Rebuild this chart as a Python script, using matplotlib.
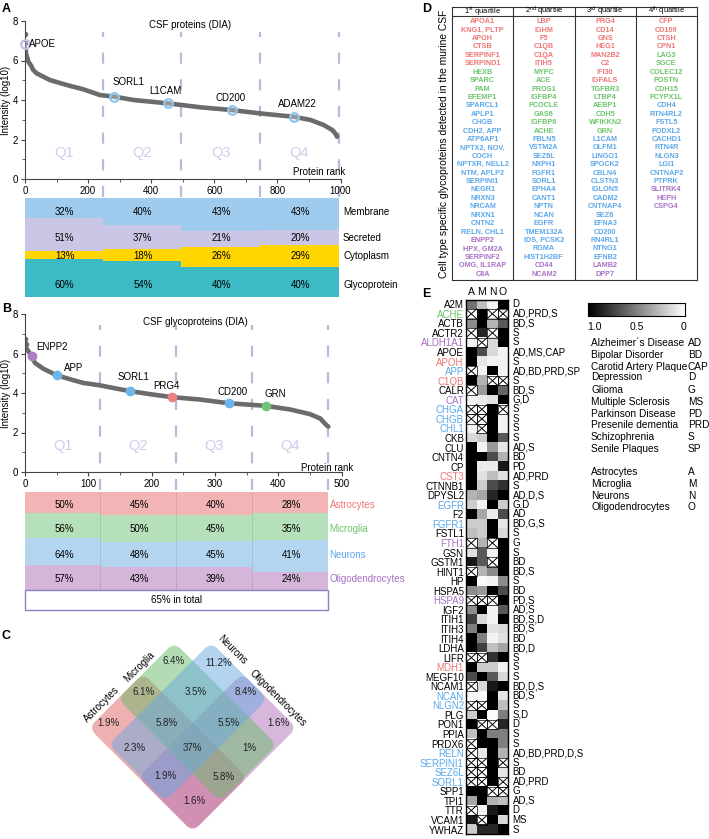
import numpy as np
import matplotlib
matplotlib.use("Agg")
import matplotlib.pyplot as plt
from matplotlib.patches import Rectangle, FancyBboxPatch
from matplotlib.transforms import Affine2D

plt.rcParams['font.family'] = ['Liberation Sans', 'DejaVu Sans']
plt.rcParams['font.size'] = 7

W, H = 709, 839

# ---------------- panel A: all CSF proteins ----------------
top_rank_a = [0, 1]
top_int_a = [7.35, 6.9]
rank_a = [2, 3, 11, 21, 26, 37, 79, 132, 185, 238, 283, 344, 453, 556, 656, 746, 852, 905, 947, 974, 984, 989]
int_a = [6.6, 6.36, 5.94, 5.69, 5.52, 5.35, 5.01, 4.76, 4.54, 4.25, 4.17, 4.0, 3.83, 3.63, 3.49, 3.32,
         3.15, 2.99, 2.73, 2.48, 2.3, 2.14]
marked_a = ['APOE', 'SORL1', 'L1CAM', 'CD200', 'ADAM22']
marked_a_rank = [0, 283, 453, 656, 852]
marked_a_int = [6.82, 4.17, 3.83, 3.49, 3.15]
quart_a = [0, 247, 496, 745, 995]
loc_names = ['Membrane', 'Secreted', 'Cytoplasm', 'Glycoprotein']
loc_pct = [[32, 40, 43, 43], [51, 37, 21, 20], [13, 18, 26, 29], [60, 54, 40, 40]]

# ---------------- panel B: CSF glycoproteins ----------------
top_rank_b = [0, 1]
top_int_b = [6.75, 6.5]
rank_b = [2.6, 10.5, 15.8, 29, 50, 76, 92, 118, 140, 165, 200, 232, 276, 322, 380, 418, 450, 466, 476, 479]
int_b = [6.25, 5.86, 5.52, 5.23, 4.9, 4.65, 4.51, 4.39, 4.25, 4.1, 3.93, 3.79, 3.67, 3.48, 3.35, 3.17,
         2.93, 2.71, 2.37, 2.3]
marked_b = ['ENPP2', 'APP', 'SORL1', 'PRG4', 'CD200', 'GRN']
marked_b_rank = [10.5, 50, 165, 232, 322, 380]
marked_b_int = [5.86, 4.9, 4.1, 3.79, 3.48, 3.35]
marked_b_cell = ['O', 'N', 'N', 'A', 'N', 'M']
quart_b = [0, 119, 239, 359, 479]
cell_names = ['Astrocytes', 'Microglia', 'Neurons', 'Oligodendrocytes']
cell_pct = [[50, 45, 40, 28], [56, 50, 45, 35], [64, 48, 45, 41], [57, 43, 39, 24]]
total_text = '65% in total'

# ---------------- panel C: venn ----------------
venn_vals = ['6.4%', '11.2%', '1.9%', '6.1%', '3.5%', '8.4%', '5.8%', '5.5%', '1.6%',
             '2.3%', '37%', '1%', '1.9%', '5.8%', '1.6%']

# ---------------- panel D: table ----------------
quartile_heads = [r'1$^{\mathregular{st}}$ quartile', r'2$^{\mathregular{nd}}$ quartile',
                  r'3$^{\mathregular{rd}}$ quartile', r'4$^{\mathregular{th}}$ quartile']
col1 = ['APOA1', 'KNG1, PLTP', 'APOH', 'CTSB', 'SERPINF1', 'SERPIND1',
        'HEXB', 'SPARC', 'PAM', 'EFEMP1',
        'SPARCL1', 'APLP1', 'CHGB', 'CDH2, APP', 'ATP6AP1', 'NPTX2, NOV,', 'COCH', 'NPTXR, NELL2',
        'NTM, APLP2', 'SERPINI1', 'NEGR1', 'NRXN3', 'NRCAM', 'NRXN1', 'CNTN2', 'RELN, CHL1',
        'ENPP2', 'HPX, GM2A', 'SERPINF2', 'OMG, IL1RAP', 'C8A']
col2 = ['LBP', 'IGHM', 'F5', 'C1QB', 'C1QA', 'ITIH5',
        'MYPC', 'ACE', 'PROS1', 'IGFBP4', 'PCOCLE', 'GAS6', 'IGFBP6', 'ACHE',
        'FBLN5', 'VSTM2A', 'SEZ6L', 'NXPH1', 'FGFR1', 'SORL1', 'EPHA4', 'CANT1', 'NPTN', 'NCAN',
        'EGFR', 'TMEM132A', 'IDS, PCSK2', 'RGMA', 'HIST1H2BF',
        'CD44', 'NCAM2']
col3 = ['PRG4', 'CD14', 'GNS', 'HEG1', 'MAN2B2', 'C2', 'IFI30', 'IGFALS',
        'TGFBR3', 'LTBP4', 'AEBP1', 'CDH5', 'WFIKKN2', 'GRN',
        'L1CAM', 'OLFM1', 'LINGO1', 'SPOCK2', 'CBLN4', 'CLSTN3', 'IGLON5', 'CADM2', 'CNTNAP4',
        'SEZ6', 'EFNA3', 'CD200', 'RN4RL1', 'NTNG1', 'EFNB2',
        'LAMB2', 'DPP7']
col4 = ['CFP', 'CD109', 'CTSH', 'CPN1',
        'LAG3', 'SGCE', 'COLEC12', 'POSTN', 'CDH15', 'PCYPX1L',
        'CDH4', 'RTN4RL2', 'FSTL5', 'PODXL2', 'CACHD1', 'RTN4R', 'NLGN3', 'LGI1', 'CNTNAP2', 'PTPRK',
        'SLITRK4', 'HEPH', 'CSPG4']
table_cols = [col1, col2, col3, col4]
# counts per cell type (astro, microglia, neurons, oligo) in each column
table_groups = [[6, 4, 16, 5], [6, 8, 15, 2], [8, 6, 15, 2], [4, 6, 10, 3]]

# ---------------- panel E: heatmap ----------------
genes = ['A2M', 'ACHE', 'ACTB', 'ACTR2', 'ALDH1A1', 'APOE', 'APOH', 'APP', 'C1QB', 'CALR', 'CAT',
         'CHGA', 'CHGB', 'CHL1', 'CKB', 'CLU', 'CNTN4', 'CP', 'CST3', 'CTNNB1', 'DPYSL2', 'EGFR', 'F2',
         'FGFR1', 'FSTL1', 'FTH1', 'GSN', 'GSTM1', 'HINT1', 'HP', 'HSPA5', 'HSPA9', 'IGF2', 'ITIH1',
         'ITIH3', 'ITIH4', 'LDHA', 'LIFR', 'MDH1', 'MEGF10', 'NCAM1', 'NCAN', 'NLGN2', 'PLG', 'PON1',
         'PPIA', 'PRDX6', 'RELN', 'SERPINI1', 'SEZ6L', 'SORL1', 'SPP1', 'TPI1', 'TTR', 'VCAM1', 'YWHAZ']
gene_cell = ['k', 'M', 'k', 'k', 'O', 'k', 'A', 'N', 'A', 'k', 'O',
             'N', 'N', 'N', 'k', 'k', 'k', 'k', 'A', 'k', 'k', 'N', 'k',
             'N', 'k', 'O', 'k', 'k', 'k', 'k', 'k', 'O', 'k', 'k',
             'k', 'k', 'k', 'k', 'A', 'k', 'k', 'N', 'N', 'k', 'k',
             'k', 'k', 'N', 'N', 'N', 'N', 'k', 'k', 'k', 'k', 'k']
diseases = ['D', 'AD,PRD,S', 'BD,S', 'S', 'S', 'AD,MS,CAP', 'S', 'AD,BD,PRD,SP', 'S', 'BD,S', 'G,D',
            'S', 'S', 'S', 'S', 'AD,S', 'BD', 'PD', 'AD,PRD', 'S', 'AD,D,S', 'G,D', 'AD',
            'BD,G,S', 'S', 'G', 'S', 'BD', 'BD,S', 'S', 'BD', 'PD,S', 'AD,S', 'BD,S,D',
            'BD,S', 'BD', 'BD,D', 'S', 'S', 'S', 'BD,D,S', 'BD,S', 'S', 'S,D', 'D',
            'S', 'S', 'AD,BD,PRD,D,S', 'S', 'BD', 'AD,PRD', 'G', 'AD,S', 'D', 'MS', 'S']
X = None
heat = [
    [0.55, 0.25, 0.05, 1.0], [X, 1.0, X, X], [0.45, 1.0, 0.3, 0.65], [X, 0.85, X, 1.0],
    [0.05, X, 0.15, 1.0], [1.0, 0.7, 0.15, 0.05], [1.0, 0.1, 0.05, 0.05], [X, 0.05, 1.0, 0.05],
    [1.0, 0.3, X, X], [X, 0.4, 1.0, 0.6], [0.05, 0.08, 0.12, 1.0], [X, X, 1.0, X],
    [X, X, 1.0, 0.05], [0.05, X, 1.0, 0.05], [0.15, 0.2, 1.0, 0.65], [1.0, 0.05, 0.4, 0.1],
    [1.0, 1.0, 0.7, 0.3], [1.0, 0.08, 0.08, 0.9], [1.0, 0.12, 0.25, 0.12], [1.0, 0.2, 0.7, 0.8],
    [0.3, 0.35, 0.85, 1.0], [0.2, 0.05, 1.0, 0.2], [1.0, 0.35, 0.08, 0.7], [0.2, 0.2, 1.0, 0.1],
    [0.25, 0.2, 1.0, 0.15], [X, 0.3, X, 1.0], [0.12, 0.65, 0.05, 1.0], [0.9, 0.65, X, 1.0],
    [X, 0.3, 0.45, 1.0], [1.0, 0.02, 0.05, 0.45], [0.45, 0.4, 1.0, 0.7], [X, X, X, 1.0],
    [0.45, 1.0, 0.05, 0.65], [0.75, 0.15, 0.05, 1.0], [0.5, 1.0, 0.12, 0.15], [1.0, 0.5, 0.05, 0.12],
    [1.0, 0.75, 0.25, 0.35], [X, X, 0.8, 1.0], [1.0, 0.2, 0.2, 0.05], [0.7, 1.0, 0.65, 0.15],
    [X, 0.15, 0.9, 1.0], [0.03, 0.03, 1.0, 0.1], [X, X, 1.0, 0.25], [0.2, 1.0, 0.02, 0.5],
    [1.0, X, X, 0.85], [0.25, 1.0, 0.5, 0.5], [X, 1.0, 1.0, 0.5], [X, 0.1, 1.0, 0.3],
    [X, X, 1.0, X], [X, X, 1.0, 0.1], [X, X, 1.0, X], [1.0, 1.0, X, X],
    [0.35, 1.0, 0.3, 0.25], [X, 0.05, 0.9, 1.0], [0.9, X, 1.0, 0.15], [0.2, 0.85, 0.85, 1.0],
]
heat_cols = ['A', 'M', 'N', 'O']
legend_dis = [('Alzheimer\u00b4s Disease', 'AD'), ('Bipolar Disorder', 'BD'), ('Carotid Artery Plaque', 'CAP'),
              ('Depression', 'D'), ('Glioma', 'G'), ('Multiple Sclerosis', 'MS'), ('Parkinson Disease', 'PD'),
              ('Presenile dementia', 'PRD'), ('Schizophrenia', 'S'), ('Senile Plaques', 'SP')]
legend_cells = [('Astrocytes', 'A'), ('Microglia', 'M'), ('Neurons', 'N'), ('Oligodendrocytes', 'O')]

# ---------------- styles ----------------
loc_colors = ['#9fcbee', '#cac6e5', '#ffd600', '#3dbac3']
band_colors = ['#f2b4b4', '#b6e0b9', '#b4d5f0', '#d5b6da']
cell_text = {'A': '#f07575', 'M': '#6cc46c', 'N': '#5aa8ea', 'O': '#a970c4', 'k': 'black'}
dash_col = '#b9b9dc'
line_col = '#6b6b6b'
axis_col = '#444444'

fig = plt.figure(figsize=(W / 100, H / 100), dpi=100)


def px_axes(x0, y0, x1, y1):
    return fig.add_axes([x0 / W, 1 - y1 / H, (x1 - x0) / W, (y1 - y0) / H])


def ftext(x, y, s, **kw):
    fig.text(x / W, 1 - y / H, s, **kw)


def style_curve_axes(ax, xmax, xstep):
    ax.set_xlim(0, xmax)
    ax.set_ylim(0, 8)
    for s in ['top', 'right']:
        ax.spines[s].set_visible(False)
    for s in ['left', 'bottom']:
        ax.spines[s].set_color(axis_col)
        ax.spines[s].set_linewidth(0.8)
    ax.set_xticks(np.arange(0, xmax + 1, xstep))
    ax.set_xticks(np.arange(xstep / 2, xmax, xstep), minor=True)
    ax.set_yticks([0, 2, 4, 6, 8])
    ax.set_yticks([1, 3, 5, 7], minor=True)
    ax.tick_params(which='major', length=3, width=0.8, color=axis_col, labelsize=7, pad=2)
    ax.tick_params(which='minor', length=2, width=0.6, color=axis_col)
    ax.patch.set_alpha(0)


def draw_quartiles(ax, edges):
    for q in edges[1:]:
        ax.plot([q, q], [-0.9, 7.45], color=dash_col, lw=1.6, ls=(0, (5, 7)), clip_on=False, zorder=1)
    for i in range(4):
        ax.text((edges[i] + edges[i + 1]) / 2, 1.3, 'Q%d' % (i + 1), color='#cfcdea', fontsize=10.5,
                ha='center', va='center')


def draw_bands(ax, edges, pcts, colors, ys, names, name_x, name_colors, sep=False):
    ax.set_ylim(1, 0)
    ax.axis('off')
    for q in range(4):
        col = [p[q] for p in pcts]
        tot = float(sum(col))
        bottom = 0
        for r in range(4):
            h = col[r] / tot
            ax.bar(edges[q], h, width=edges[q + 1] - edges[q], bottom=bottom, align='edge',
                   color=colors[r], linewidth=0)
            bottom += h
        mid = (edges[q] + edges[q + 1]) / 2
        for r in range(4):
            ax.text(mid + 2, ys[r], '%d%%' % col[r], ha='center', va='center', fontsize=7)
    if sep:
        for q in edges[1:-1]:
            ax.plot([q, q], [0, 1], color=(0, 0, 0, 0.1), lw=0.7)
    for r in range(4):
        ax.text(name_x, ys[r], names[r], ha='left', va='center', fontsize=7, color=name_colors[r])


# ---------------- A ----------------
ftext(2, 3, 'A', fontsize=9, fontweight='bold', va='top')
axA = px_axes(25, 21, 340.5, 179)
style_curve_axes(axA, 1000, 200)
draw_quartiles(axA, quart_a)
axA.plot(rank_a, int_a, color=line_col, lw=3.3, solid_capstyle='round', zorder=2)
axA.plot(top_rank_a, top_int_a, 'o', color=line_col, ms=3, zorder=2)
ring_cols = ['#c4bfe6', '#8cc6ef', '#8cc6ef', '#8cc6ef', '#8cc6ef']
label_pos_a = [(14, 6.85), (327, 4.93), (444, 4.47), (651, 4.12), (864, 3.8)]
for i, name in enumerate(marked_a):
    axA.plot(marked_a_rank[i], marked_a_int[i], 'o', ms=6.2, mfc=(1, 1, 1, 0.3), mec=ring_cols[i],
             mew=1.6, zorder=3, clip_on=False)
    axA.text(label_pos_a[i][0], label_pos_a[i][1], name, ha='left' if i == 0 else 'center',
             va='center', fontsize=7)
axA.text(524, 7.8, 'CSF proteins (DIA)', ha='center', va='center', fontsize=7)
axA.text(1016, 0.35, 'Protein rank', ha='right', va='center', fontsize=7)
ftext(6.5, 100, 'Intensity (log10)', rotation=90, ha='center', va='center', fontsize=7)

axAb = px_axes(25, 198, 340.5, 297)
axAb.set_xlim(0, 1000)
draw_bands(axAb, quart_a, loc_pct, loc_colors, [0.14, 0.40, 0.59, 0.88], loc_names, 1008,
           ['black'] * 4)

# ---------------- B ----------------
ftext(2, 303, 'B', fontsize=9, fontweight='bold', va='top')
axB = px_axes(25, 314, 341.7, 472)
style_curve_axes(axB, 500, 100)
draw_quartiles(axB, quart_b)
axB.plot(rank_b, int_b, color=line_col, lw=3.3, solid_capstyle='round', zorder=2)
axB.plot(top_rank_b, top_int_b, 'o', color=line_col, ms=3, zorder=2)
dot_cols = {'A': '#ee8080', 'M': '#74c477', 'N': '#6cb4ec', 'O': '#b07cc6'}
label_pos_b = [(42.6, 6.33), (77, 5.27), (171, 4.81), (224, 4.36), (327, 4.06), (395, 3.94)]
for i, name in enumerate(marked_b):
    axB.plot(marked_b_rank[i], marked_b_int[i], 'o', ms=7, color=dot_cols[marked_b_cell[i]],
             mec='none', zorder=3)
    axB.text(label_pos_b[i][0], label_pos_b[i][1], name, ha='center', va='center', fontsize=7)
axB.text(269, 7.6, 'CSF glycoproteins (DIA)', ha='center', va='center', fontsize=7)
axB.text(518, 0.22, 'Protein rank', ha='right', va='center', fontsize=7)
ftext(6.5, 393, 'Intensity (log10)', rotation=90, ha='center', va='center', fontsize=7)

axBb = px_axes(25, 491.7, 341.7, 590)
axBb.set_xlim(0, 500)
draw_bands(axBb, quart_b, cell_pct, band_colors, [0.135, 0.38, 0.64, 0.885], cell_names, 481,
           [cell_text[c] for c in 'AMNO'], sep=True)

axBt = px_axes(25, 590, 341.7, 610)
axBt.set_xlim(0, 500)
axBt.set_ylim(0, 1)
axBt.axis('off')
axBt.add_patch(Rectangle((0, 0), quart_b[-1], 1, fc='white', ec='#8b80c4', lw=1, clip_on=False))
axBt.text(quart_b[-1] / 2, 0.5, total_text, ha='center', va='center', fontsize=7)

# ---------------- C ----------------
ftext(2, 630, 'C', fontsize=9, fontweight='bold', va='top')
axC = px_axes(60, 625, 330, 839)
axC.set_xlim(60, 330)
axC.set_ylim(839, 625)
axC.axis('off')
cx, cy = 192.7, 748.3
# drawn in the order astro, oligo, micro, neurons so the overlaps blend like the original
venn_colors = {'A': '#df6262', 'M': '#6bbb6b', 'N': '#69a9e1', 'O': '#b171b9'}
venn_boxes = {'A': (-88, 59, -18, 59), 'M': (-88, 57, -62, 18), 'N': (-62, 18, -88, 57),
              'O': (-18, 59, -88, 59)}
rot = Affine2D().rotate_deg(45).translate(cx, cy) + axC.transData
for key in ['A', 'O', 'M', 'N']:
    u0, u1, v0, v1 = venn_boxes[key]
    axC.add_patch(FancyBboxPatch((u0, v0), u1 - u0, v1 - v0, boxstyle='round,pad=0,rounding_size=9',
                                 fc=venn_colors[key], ec='none', alpha=0.5, transform=rot))
venn_xy = [(173.3, 660.7), (218.3, 663.3), (108.3, 722.7), (143.3, 692.3), (196, 692.3), (246, 692.3),
           (166.7, 722.7), (228.3, 722.7), (278.3, 722.7), (135, 748.3), (192.7, 748.3), (249.3, 748.3),
           (165.7, 776), (224, 776.7), (194.3, 801)]
for (x, y), s in zip(venn_xy, venn_vals):
    axC.text(x, y, s, ha='center', va='center', fontsize=7, color='#222222')
venn_name_xy = [(101.7, 704, 45), (139, 667, 45), (232, 650, -45), (278, 698, -45)]
for (x, y, r), s in zip(venn_name_xy, cell_names):
    axC.text(x, y, s, ha='center', va='center', fontsize=7, rotation=r, rotation_mode='anchor')

# ---------------- D ----------------
ftext(422, 3, 'D', fontsize=9, fontweight='bold', va='top')
axD = px_axes(452, 7.3, 697, 280)
axD.set_xlim(0, 4)
axD.set_ylim(30.7, -1.71)
axD.set_xticks([])
axD.set_yticks([])
for s in axD.spines.values():
    s.set_linewidth(0.8)
    s.set_color('#333333')
for x in [1, 2, 3]:
    axD.axvline(x, color='#333333', lw=0.8)
axD.axhline(-0.71, color='#333333', lw=0.8)
grp_cols = [cell_text[c] for c in 'AMNO']
for j, col in enumerate(table_cols):
    axD.text(j + 0.5, -1.21, quartile_heads[j], ha='center', va='center', fontsize=5.4)
    colors = []
    for g, n in enumerate(table_groups[j]):
        colors += [grp_cols[g]] * n
    for i, name in enumerate(col):
        axD.text(j + 0.5, i, name, ha='center', va='center', fontsize=5.2, fontweight='bold',
                 color=colors[i])
ftext(444, 144, 'Cell type specific glycoproteins detected in the murine CSF', rotation=90,
      ha='center', va='center', fontsize=7.4)

# ---------------- E ----------------
ftext(422, 288, 'E', fontsize=9, fontweight='bold', va='top')
mat = np.array([[np.nan if v is None else v for v in row] for row in heat])
axE = px_axes(466, 299.5, 508.3, 834.3)
cmap = plt.get_cmap('gray_r').copy()
cmap.set_bad('white')
axE.imshow(np.ma.masked_invalid(mat), cmap=cmap, vmin=0, vmax=1, aspect='auto', interpolation='nearest')
for i in range(mat.shape[0]):
    for j in range(mat.shape[1]):
        if np.isnan(mat[i, j]):
            axE.plot([j - 0.5, j + 0.5], [i - 0.5, i + 0.5], color='black', lw=0.7)
            axE.plot([j - 0.5, j + 0.5], [i + 0.5, i - 0.5], color='black', lw=0.7)
            axE.add_patch(Rectangle((j - 0.5, i - 0.5), 1, 1, fill=False, ec='black', lw=0.5))
axE.set_xlim(-0.5, 3.5)
axE.set_ylim(len(genes) - 0.5, -0.5)
axE.set_yticks(range(len(genes)))
axE.set_yticklabels(genes, fontsize=7)
for lab, c in zip(axE.get_yticklabels(), gene_cell):
    lab.set_color(cell_text[c])
axE.set_xticks(range(4))
axE.set_xticklabels(heat_cols, fontsize=7.5)
axE.tick_params(length=0, pad=1.5, top=True, labeltop=True, bottom=False, labelbottom=False)
for s in axE.spines.values():
    s.set_linewidth(1.0)
for i, d in enumerate(diseases):
    axE.text(3.92, i, d, ha='left', va='center', fontsize=7)

axCb = px_axes(588, 302.7, 685, 316)
axCb.imshow(np.linspace(1, 0, 256)[None, :], cmap='gray_r', vmin=0, vmax=1, aspect='auto',
            extent=[0, 1, 0, 1])
axCb.set_yticks([])
axCb.set_xticks([0.07, 0.5, 0.98])
axCb.set_xticklabels(['1.0', '0.5', '0'], fontsize=7.5)
axCb.set_xticks([0.5], minor=True)
axCb.tick_params(which='major', length=0, pad=4)
axCb.tick_params(which='minor', direction='in', length=2.5, width=0.8, top=True, bottom=True,
                 color='black')
for s in axCb.spines.values():
    s.set_linewidth(0.8)

leg_y = [343.3, 355, 367.3, 377.3, 390, 402, 413.7, 425.3, 437, 449]
for (name, ab), y in zip(legend_dis, leg_y):
    ftext(591, y, name, ha='left', va='center', fontsize=7.3)
    ftext(687.7, y, ab, ha='left', va='center', fontsize=7.3)
cell_y = [472.3, 484.3, 496, 507.3]
for (name, ab), y in zip(legend_cells, cell_y):
    ftext(591, y, name, ha='left', va='center', fontsize=7.3)
    ftext(687.7, y, ab, ha='left', va='center', fontsize=7.3)

fig.savefig('out.png', dpi=100)
